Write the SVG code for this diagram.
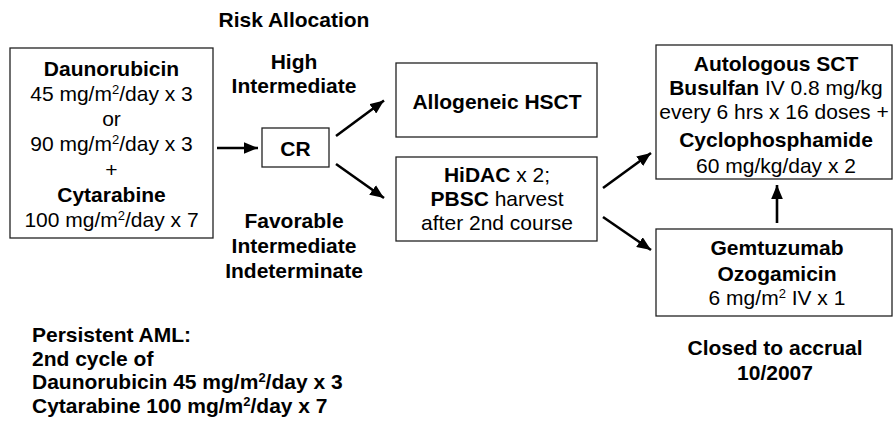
<svg xmlns="http://www.w3.org/2000/svg" width="896" height="422" viewBox="0 0 896 422">
<defs>
<style>
text{font-family:"Liberation Sans",Arial,sans-serif;font-size:21px;fill:#000}
.c{text-anchor:middle}
.b{font-weight:bold}
.box{fill:#fff;stroke:#222;stroke-width:1.3}
.arr{stroke:#000;stroke-width:2.6;fill:none;marker-end:url(#ah)}
.sup{font-size:13px}
</style>
<marker id="ah" markerUnits="userSpaceOnUse" markerWidth="14" markerHeight="12" refX="12" refY="5" orient="auto" viewBox="0 0 12 10">
<path d="M0,0 L12,5 L0,10 Z" fill="#000"/>
</marker>
</defs>
<rect width="896" height="422" fill="#fff"/>

<g id="connectors">
<line class="arr" x1="217" y1="148" x2="258" y2="148"/>
<line class="arr" x1="336" y1="136" x2="384" y2="100.5"/>
<line class="arr" x1="336" y1="164" x2="384" y2="198"/>
<line class="arr" x1="603" y1="188" x2="651" y2="153"/>
<line class="arr" x1="603" y1="217" x2="651" y2="250"/>
<line class="arr" x1="777" y1="223" x2="777" y2="185"/>
</g>

<g id="labels">
<text class="c b" x="294" y="27">Risk Allocation</text>
<text class="c b" x="294" y="69">High</text>
<text class="c b" x="294" y="93">Intermediate</text>
<text class="c b" x="294" y="228">Favorable</text>
<text class="c b" x="294" y="253">Intermediate</text>
<text class="c b" x="294" y="278">Indeterminate</text>
</g>

<g id="induction">
<rect class="box" x="10" y="48" width="203" height="190"/>
<text class="c b" x="111.5" y="76">Daunorubicin</text>
<text class="c" x="111.5" y="101">45 mg/m<tspan class="sup" dy="-7">2</tspan><tspan dy="7">/day x 3</tspan></text>
<text class="c" x="111.5" y="126">or</text>
<text class="c" x="111.5" y="151">90 mg/m<tspan class="sup" dy="-7">2</tspan><tspan dy="7">/day x 3</tspan></text>
<text class="c" x="111.5" y="177">+</text>
<text class="c b" x="111.5" y="202">Cytarabine</text>
<text class="c" x="111.5" y="227">100 mg/m<tspan class="sup" dy="-7">2</tspan><tspan dy="7">/day x 7</tspan></text>
</g>

<g id="cr">
<rect class="box" x="262" y="128" width="67" height="39"/>
<text class="c b" x="295.5" y="156">CR</text>
</g>

<g id="allogeneic">
<rect class="box" x="396" y="63" width="201" height="74"/>
<text class="c b" x="497" y="109">Allogeneic HSCT</text>
</g>

<g id="hidac">
<rect class="box" x="396" y="157" width="201" height="84"/>
<text class="c" x="497" y="182"><tspan class="b">HiDAC</tspan> x 2;</text>
<text class="c" x="497" y="206"><tspan class="b">PBSC</tspan> harvest</text>
<text class="c" x="497" y="230">after 2nd course</text>
</g>

<g id="autologous">
<rect class="box" x="656" y="45" width="236" height="134"/>
<text class="c b" x="776" y="70.5">Autologous SCT</text>
<text class="c" x="776" y="95"><tspan class="b">Busulfan</tspan> IV 0.8 mg/kg</text>
<text class="c" x="774" y="119">every 6 hrs x 16 doses +</text>
<text class="c b" x="776" y="146.5">Cyclophosphamide</text>
<text class="c" x="776" y="172.5">60 mg/kg/day x 2</text>
</g>

<g id="gemtuzumab">
<rect class="box" x="656" y="229" width="236" height="87"/>
<text class="c b" x="777" y="255">Gemtuzumab</text>
<text class="c b" x="777" y="280.5">Ozogamicin</text>
<text class="c" x="777" y="305">6 mg/m<tspan class="sup" dy="-7">2</tspan><tspan dy="7"> IV x 1</tspan></text>
</g>

<g id="closed">
<text class="c b" x="775" y="355">Closed to accrual</text>
<text class="c b" x="775" y="380">10/2007</text>
</g>

<g id="persistent">
<text class="b" x="32" y="342">Persistent AML:</text>
<text class="b" x="32" y="366">2nd cycle of</text>
<text class="b" x="32" y="389">Daunorubicin 45 mg/m<tspan class="sup" dy="-7">2</tspan><tspan dy="7">/day x 3</tspan></text>
<text class="b" x="32" y="413">Cytarabine 100 mg/m<tspan class="sup" dy="-7">2</tspan><tspan dy="7">/day x 7</tspan></text>
</g>
</svg>
